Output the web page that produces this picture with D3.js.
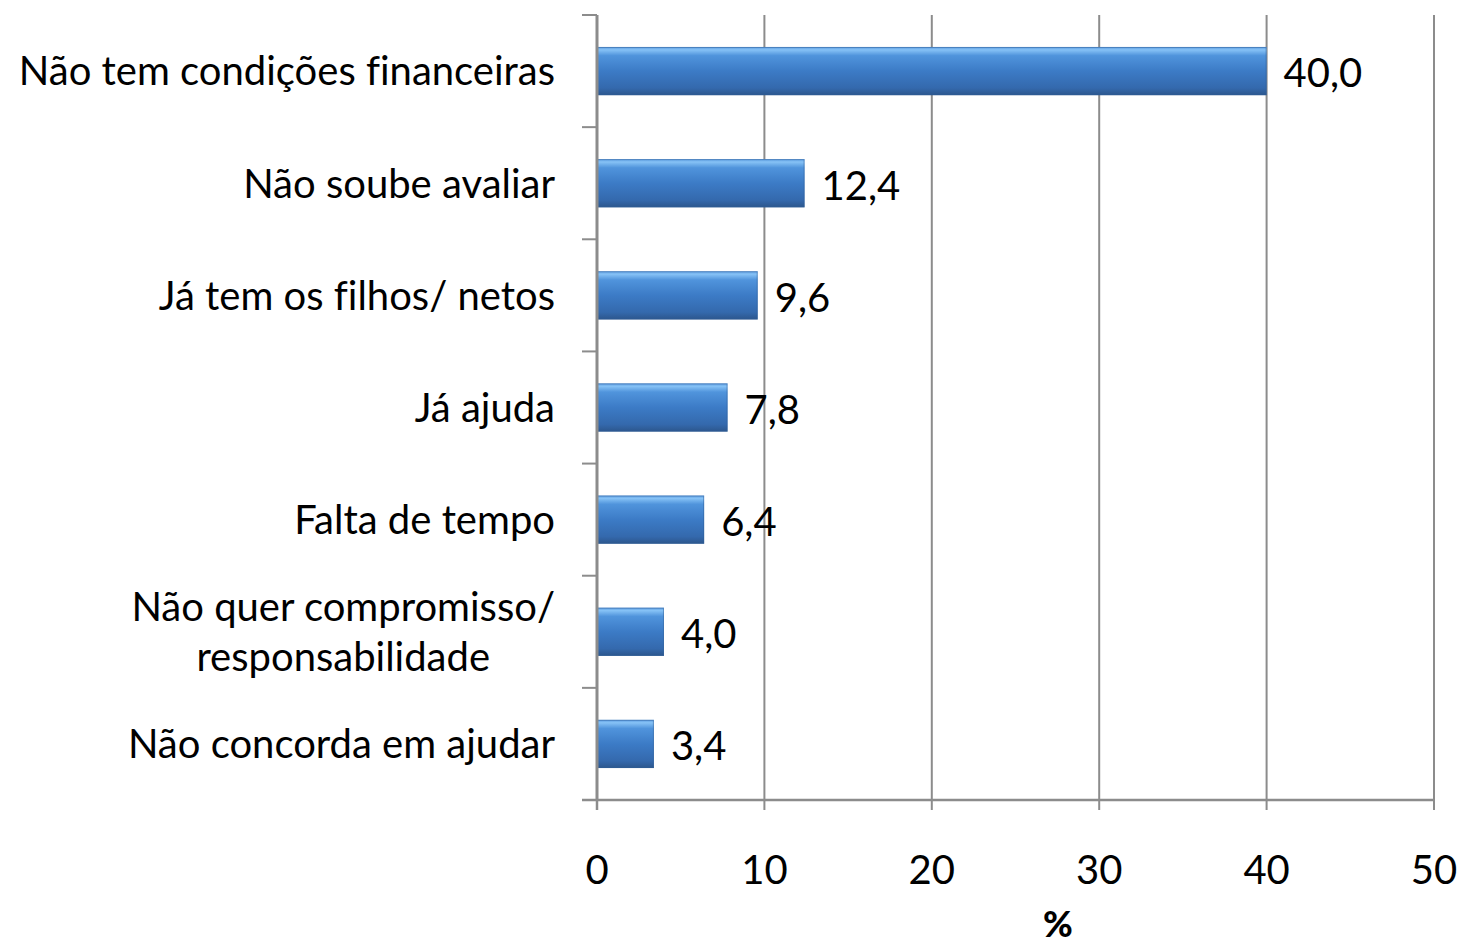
<!DOCTYPE html>
<html><head><meta charset="utf-8">
<script src="https://cdn.jsdelivr.net/npm/d3@7"></script>
<style>body{margin:0;background:#fff}svg{display:block}text{font-family:Lato,"Open Sans",sans-serif;fill:#000;font-variant-ligatures:none}</style>
</head><body><svg id="c" width="1459" height="947"></svg>
<script>
const categories = ["Não tem condições financeiras","Não soube avaliar","Já tem os filhos/ netos","Já ajuda","Falta de tempo","Não quer compromisso/\nresponsabilidade","Não concorda em ajudar"];
const values = [40.0,12.4,9.6,7.8,6.4,4.0,3.4];
const xTicks = [0,10,20,30,40,50];
const xTitle = "%";

const svg = d3.select("#c");
const L=597,R=1434,T=15,B=800;
const FS=40;
const x = d3.scaleLinear().domain([0,50]).range([L,R]);
const y = d3.scaleBand().domain(categories).range([T,B]).paddingInner(0.57).paddingOuter(0.285);
const band = d3.scaleBand().domain(categories).range([T,B]);

const defs = svg.append("defs");
const g = defs.append("linearGradient").attr("id","bg").attr("x1",0).attr("y1",0).attr("x2",0).attr("y2",1);
[[0,"#5b9be0"],[0.06,"#86c2f6"],[0.18,"#5094dc"],[0.5,"#3c7bc6"],[0.85,"#3469ad"],[1,"#2c568c"]].forEach(s=>g.append("stop").attr("offset",s[0]).attr("stop-color",s[1]));

// grid
svg.append("g").selectAll("line").data(xTicks.slice(1)).join("line")
 .attr("x1",d=>x(d)).attr("x2",d=>x(d)).attr("y1",T).attr("y2",B+10)
 .attr("stroke","#8c8c8c").attr("stroke-width",2);
// x axis bottom
svg.append("line").attr("x1",L-15).attr("x2",R).attr("y1",B).attr("y2",B).attr("stroke","#8c8c8c").attr("stroke-width",2.5);
svg.append("line").attr("x1",L).attr("x2",L).attr("y1",B).attr("y2",B+10).attr("stroke","#8c8c8c").attr("stroke-width",2.5);
// y axis ticks
const yt = categories.map(c=>band(c)).concat([B]);
svg.append("g").selectAll("line").data(yt).join("line")
 .attr("x1",L-15).attr("x2",L).attr("y1",d=>d).attr("y2",d=>d).attr("stroke","#8c8c8c").attr("stroke-width",2);

// bars
const bars = svg.append("g").selectAll("g").data(categories).join("g");
bars.append("rect").attr("x",x(0)).attr("y",d=>y(d)).attr("width",(d,i)=>x(values[i])-x(0)).attr("height",y.bandwidth())
 .attr("fill","url(#bg)");
bars.append("rect").attr("x",x(0)+0.5).attr("y",d=>y(d)+0.5).attr("width",(d,i)=>x(values[i])-x(0)-1).attr("height",y.bandwidth()-1)
 .attr("fill","none").attr("stroke","#2f5f9a").attr("stroke-opacity",0.5).attr("stroke-width",1);

// y axis line
svg.append("line").attr("x1",L).attr("x2",L).attr("y1",T).attr("y2",B).attr("stroke","#8c8c8c").attr("stroke-width",3);

// value labels
svg.append("g").selectAll("text").data(categories).join("text")
 .attr("x",(d,i)=>x(values[i])+17).attr("y",d=>band(d)+band.bandwidth()/2+2).attr("dy","0.36em")
 .attr("font-size",FS).text((d,i)=>d3.format(".1f")(values[i]).replace(".",","));

// category labels
const cl = svg.append("g");
categories.forEach(c=>{
  const lines=c.split("\n");
  const cy=band(c)+band.bandwidth()/2;
  if(lines.length===1){
    cl.append("text").attr("x",555).attr("y",cy).attr("dy","0.36em").attr("text-anchor","end").attr("font-size",FS).text(c);
  } else {
    const t1=cl.append("text").attr("x",555).attr("y",cy-25).attr("dy","0.36em").attr("text-anchor","end").attr("font-size",FS).text(lines[0]);
    const w=t1.node().getComputedTextLength();
    cl.append("text").attr("x",555-w/2).attr("y",cy+25).attr("dy","0.36em").attr("text-anchor","middle").attr("font-size",FS).text(lines[1]);
  }
});

// x tick labels
svg.append("g").selectAll("text").data(xTicks).join("text")
 .attr("x",d=>x(d)).attr("y",870).attr("dy","0.36em").attr("text-anchor","middle").attr("font-size",FS).text(d=>d);
svg.append("text").attr("x",1058).attr("y",937).attr("text-anchor","middle").attr("font-size",36).attr("font-weight",900).text(xTitle);
</script></body></html>
